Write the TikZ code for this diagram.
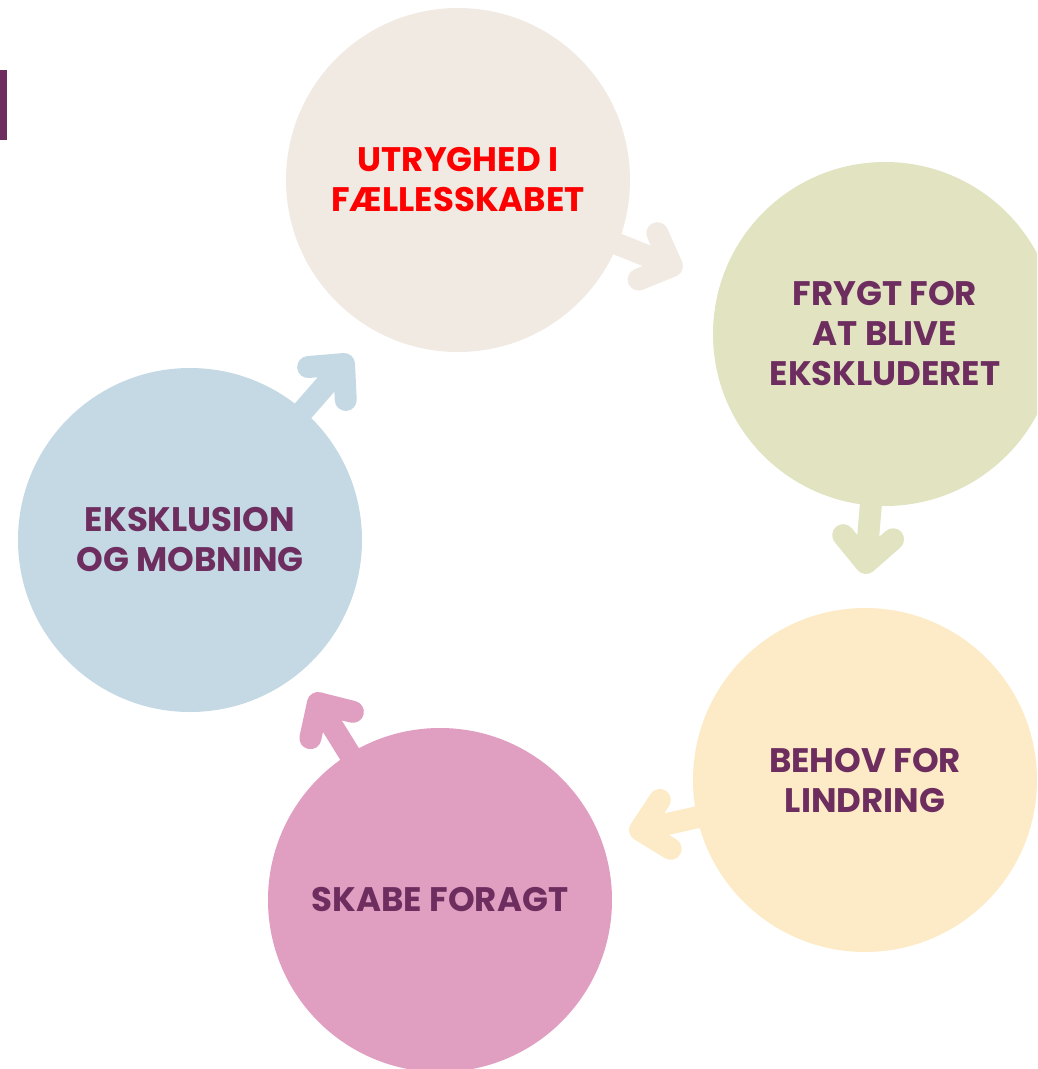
\documentclass[tikz,border=0pt]{standalone}
\usepackage{fontspec}
\setmainfont{Poppins}
\usepackage{tikz}
\usetikzlibrary{backgrounds,calc}
\definecolor{beigec}{HTML}{F0EAE2}
\definecolor{greenc}{HTML}{E1E3C1}
\definecolor{yellowc}{HTML}{FDEBC8}
\definecolor{pinkc}{HTML}{E09EC0}
\definecolor{bluec}{HTML}{C5D9E5}
\definecolor{plum}{HTML}{6D2E5F}
\tikzset{
  bubble/.style={circle, minimum size=344pt, inner sep=0pt, align=center,
    text=plum, font=\bfseries\fontsize{34}{40}\selectfont},
  flow/.style={line width=22pt, line cap=round, line join=round}
}
\def\flowarrow[#1](#2)(#3)% Syntax: [colour] (from circle) (tip)
    { \draw[flow,#1] (#2) -- (#3) ($(#3)!36pt!44:(#2)$) -- (#3) -- ($(#3)!36pt!-44:(#2)$); }

\begin{document}
\begin{tikzpicture}[x=1pt,y=-1pt]
   \useasboundingbox (0,0) rectangle (1037,1069);
   \clip (0,0) rectangle (1037,1069);

   \fill[plum] (0,70) rectangle (7,140);

   % the five circles of the cycle
   \node[bubble, fill=beigec, text=red] (utryg) at (458,180) {UTRYGHED I\\FÆLLESSKABET};
   \node[bubble, fill=greenc] (frygt) at (885,334) {FRYGT FOR\\AT BLIVE\\EKSKLUDERET};
   \node[bubble, fill=yellowc] (behov) at (865,780) {BEHOV FOR\\LINDRING};
   \node[bubble, fill=pinkc] (foragt) at (440,900) {SKABE FORAGT};
   \node[bubble, fill=bluec] (eksklusion) at (190,540) {EKSKLUSION\\OG MOBNING};

   \coordinate (tip1) at (672,266);
   \coordinate (tip2) at (866,563);
   \coordinate (tip3) at (640,830);
   \coordinate (tip4) at (318,703);
   \coordinate (tip5) at (344,364);

   \begin{scope}[on background layer]
     \flowarrow[beigec](utryg.center)(tip1)
     \flowarrow[greenc](frygt.center)(tip2)
     \flowarrow[yellowc](behov.center)(tip3)
     \flowarrow[pinkc](foragt.center)(tip4)
     \flowarrow[bluec](eksklusion.center)(tip5)
   \end{scope}
\end{tikzpicture}
\end{document}
